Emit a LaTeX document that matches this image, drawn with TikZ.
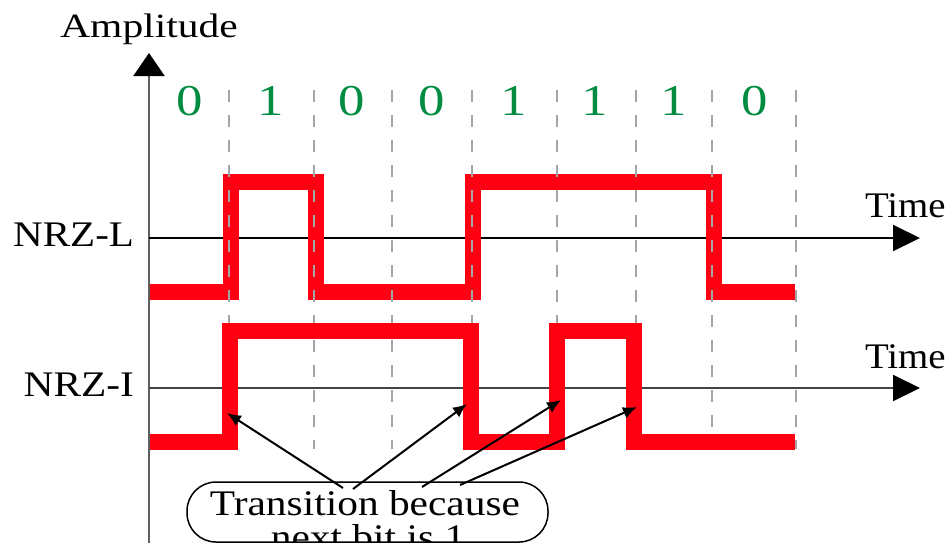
\documentclass[tikz,border=0pt]{standalone}
\usepackage{fontspec}
\setmainfont{Liberation Serif}
\usetikzlibrary{arrows.meta}

\definecolor{sigred}{RGB}{255,0,18}
\definecolor{bitgreen}{RGB}{0,140,64}
\definecolor{gridgray}{RGB}{165,165,165}
\definecolor{axisgray}{RGB}{95,95,95}

% text at a given size, widened horizontally
\newcommand{\wide}[3]{\scalebox{#2}[1]{\fontsize{#1}{#1}\selectfont #3}}

\begin{document}
\begin{tikzpicture}[x=1pt,y=-1pt,
  txt/.style={inner sep=0pt,outer sep=0pt},
  haxis/.style={line width=2pt,-{Triangle[length=27pt,width=26pt,color=black]}},
  vaxis/.style={line width=2.2pt,draw=axisgray,-{Triangle[length=23pt,width=31pt,color=black]}},
  gridline/.style={draw=gridgray,line width=2pt,dash pattern=on 12pt off 13pt},
  signal/.style={draw=sigred,line width=16pt,line cap=butt,line join=miter},
  pointer/.style={line width=2pt,-{Latex[length=14pt,width=12pt]}},
  bit/.style={txt,anchor=base,text=bitgreen},
  notebox/.style={draw,line width=1.5pt,rounded corners=29pt,
    minimum width=361pt,minimum height=60pt,inner sep=0pt}]

\useasboundingbox (0,0) rectangle (952,542);

% axes
\coordinate (origin) at (149,560);
\coordinate (ytip) at (149,53);
\draw[vaxis] (origin) -- (ytip);
\node[txt,anchor=base] (amp) at (149,37) {\wide{34}{1.22}{Amplitude}};

\coordinate (l0) at (149,238);
\coordinate (l1) at (920,238);
\draw[haxis] (l0) -- (l1);
\coordinate (i0) at (149,388);
\coordinate (i1) at (920,388);
\draw[haxis,draw=axisgray!70!black] (i0) -- (i1);

\node[txt,anchor=base east] (nrzl) at (134,246) {\wide{36}{1.14}{NRZ-L}};
\node[txt,anchor=base east] (nrzi) at (134,396) {\wide{36}{1.15}{NRZ-I}};
\node[txt,anchor=base west] (time1) at (865,217) {\wide{36}{1.08}{Time}};
\node[txt,anchor=base west] (time2) at (865,368) {\wide{36}{1.08}{Time}};

% NRZ-L waveform
\draw[signal] (150,292) -- (230.5,292) -- (230.5,182) -- (315.5,182)
  -- (315.5,292) -- (472.5,292) -- (472.5,182) -- (713.5,182)
  -- (713.5,292) -- (795,292);

% bit cell boundaries
\foreach \x [count=\i] in {229.3,314.3,392.3,471.7,557.3,635.7,711.7,796}{
  \coordinate (dt\i) at (\x,90);
  \coordinate (db\i) at (\x,449);
  \draw[gridline] (dt\i) -- (db\i);
}

% data bits
\foreach \x/\b [count=\i] in {190/0,271/1,352/0,432/0,514/1,595/1,674/1,755/0}{
  \node[bit] (bit\i) at (\x,115) {\wide{44}{1.2}{\b}};
}

% NRZ-I waveform
\draw[signal] (150,441.5) -- (229.7,441.5) -- (229.7,331) -- (470.5,331)
  -- (470.5,441.5) -- (556.5,441.5) -- (556.5,331) -- (634,331)
  -- (634,441.5) -- (795,441.5);

% annotation
\node[notebox] (note) at (367.5,512) {};
\node[txt,anchor=base] (notea) at (365,515) {\wide{36}{1.15}{Transition because}};
\node[txt,anchor=base] (noteb) at (368,549) {\wide{36}{1.15}{next bit is 1}};

\coordinate (s1) at (343,488);
\coordinate (s2) at (353,489);
\coordinate (s3) at (422,487);
\coordinate (s4) at (460,485);
\coordinate (e1) at (227,413);
\coordinate (e2) at (467,404);
\coordinate (e3) at (561,400);
\coordinate (e4) at (637,407);
\foreach \k in {1,2,3,4}{
  \draw[pointer] (s\k) -- (e\k);
}
\end{tikzpicture}
\end{document}
